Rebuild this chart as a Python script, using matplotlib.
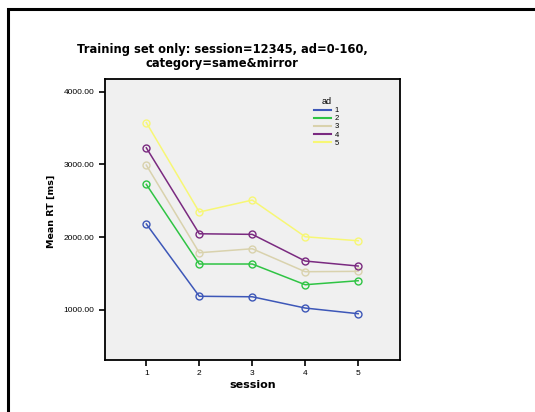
import matplotlib.pyplot as plt
import matplotlib.patches as patches

# data
sessions = [1, 2, 3, 4, 5]
ad_levels = ['1', '2', '3', '4', '5']
rt_ad1 = [2180, 1185, 1178, 1023, 945]
rt_ad2 = [2725, 1629, 1629, 1344, 1399]
rt_ad3 = [2990, 1784, 1839, 1523, 1528]
rt_ad4 = [3228, 2045, 2037, 1670, 1601]
rt_ad5 = [3575, 2344, 2509, 2004, 1949]
colors = ['#3d57b8', '#2fc444', '#d9d2ad', '#7a2a80', '#f7f775']

plt.rcParams['font.family'] = ['Liberation Sans', 'DejaVu Sans']

fig = plt.figure(figsize=(5.35, 4.12), dpi=100)
W, H = 535, 412

# outer frame
fig.patches.append(patches.Rectangle((8 / W, -0.05), 1.2, 1 - 9 / H + 0.05,
                                     transform=fig.transFigure, fill=False,
                                     edgecolor='black', linewidth=2.2))

ax = fig.add_axes([105 / W, 1 - 360 / H, 295 / W, 281 / H])
ax.set_facecolor('#f0f0f0')

series = [rt_ad1, rt_ad2, rt_ad3, rt_ad4, rt_ad5]
for vals, col, lab in zip(series, colors, ad_levels):
    ax.plot(sessions, vals, color=col, linewidth=1.1, marker='o',
            markersize=5, markerfacecolor='none', markeredgecolor=col,
            markeredgewidth=1.0, label=lab)

ax.set_xlim(0.22, 5.79)
ax.set_ylim(308, 4175)
ax.set_xticks(sessions)
ax.set_yticks([1000, 2000, 3000, 4000])
ax.set_yticklabels(['1000.00', '2000.00', '3000.00', '4000.00'])
ax.tick_params(axis='both', labelsize=6, length=4, width=1.2, direction='out')
for s in ax.spines.values():
    s.set_linewidth(1.3)

bold = dict(family='DejaVu Sans', fontweight='bold')
ax.set_xlabel('session', fontsize=8, **bold)
ax.xaxis.set_label_coords(0.5, -0.07)
ax.set_ylabel('Mean RT [ms]', fontsize=6.8, **bold)
ax.yaxis.set_label_coords(-0.165, 0.53)

fig.text(222 / W, 1 - 50 / H, 'Training set only: session=12345, ad=0-160,',
         ha='center', va='center', fontsize=8.3, **bold)
fig.text(222 / W, 1 - 63 / H, 'category=same&mirror',
         ha='center', va='center', fontsize=8.3, **bold)

leg = ax.legend(title='ad', loc='upper left', bbox_to_anchor=(0.685, 0.96),
                frameon=False, fontsize=5.5, title_fontsize=6.5,
                handlelength=2.2, handletextpad=0.5, labelspacing=0.1)
for line in leg.get_lines():
    line.set_marker('')
    line.set_linewidth(1.5)

fig.savefig('out.png', dpi=100)
